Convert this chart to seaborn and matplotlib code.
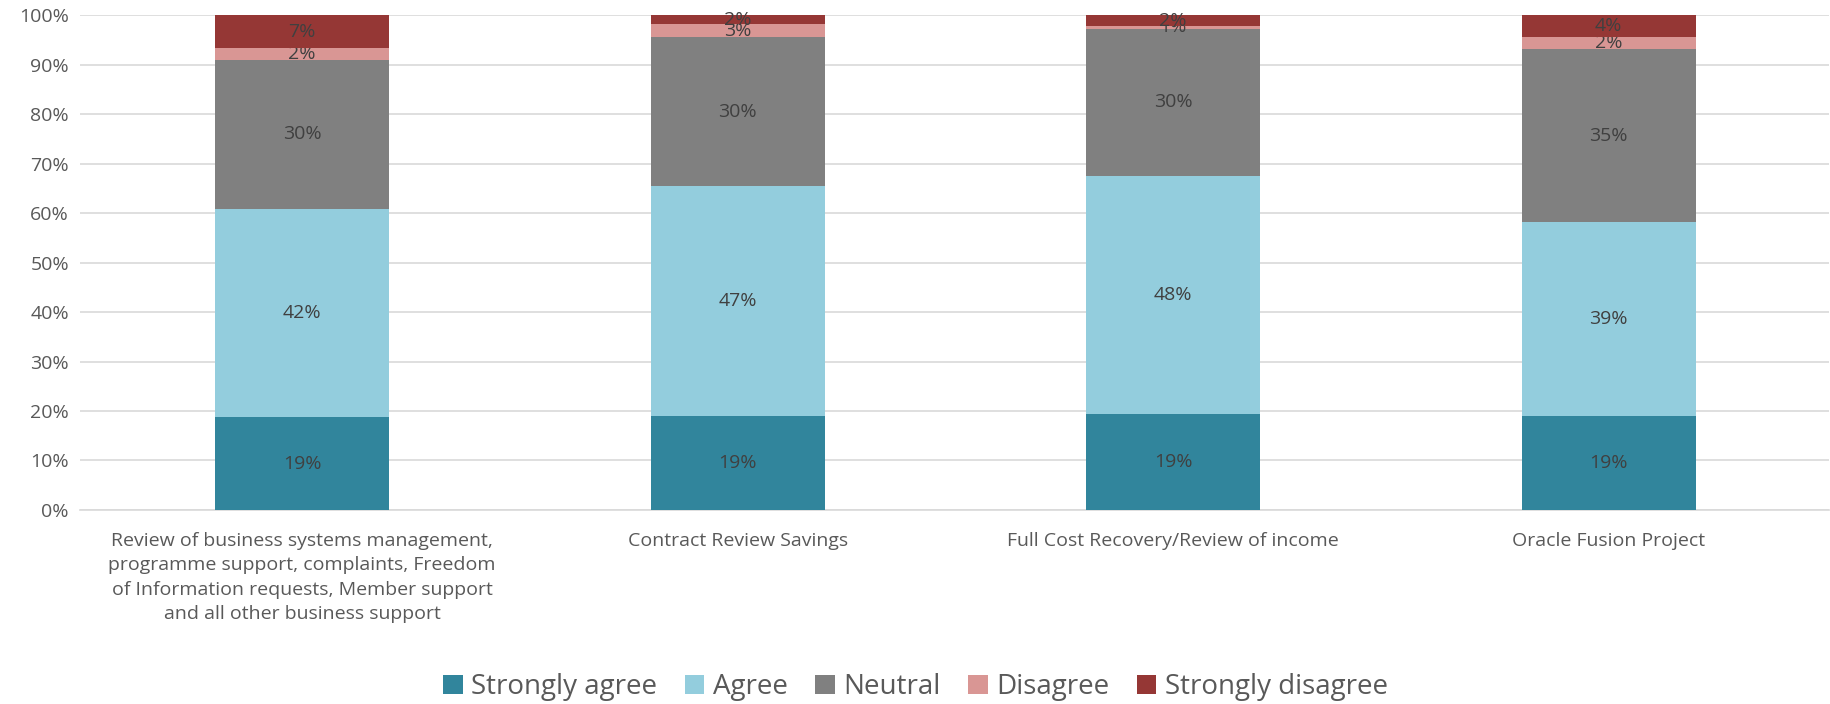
import matplotlib
matplotlib.use("Agg")
import matplotlib.pyplot as plt
import seaborn as sns
import numpy as np

# data
categories = [
    "Review of business systems management,\nprogramme support, complaints, Freedom\nof Information requests, Member support\nand all other business support",
    "Contract Review Savings",
    "Full Cost Recovery/Review of income",
    "Oracle Fusion Project",
]
series = ["Strongly agree", "Agree", "Neutral", "Disagree", "Strongly disagree"]
strongly_agree = [0.187, 0.189, 0.193, 0.189]
agree = [0.421, 0.466, 0.482, 0.392]
neutral = [0.302, 0.300, 0.297, 0.351]
disagree = [0.023, 0.027, 0.006, 0.024]
strongly_disagree = [0.067, 0.018, 0.022, 0.044]
colors = ["#31859C", "#93CDDD", "#808080", "#D99694", "#953735"]

sns.set_style("white")
plt.rcParams["font.family"] = ["Open Sans", "DejaVu Sans"]

fig = plt.figure(figsize=(18.31, 7.04), dpi=100)
ax = fig.add_axes([0.0437, 0.2756, 0.955, 0.703])

bottom = np.zeros(len(categories))
for name, vals, c in zip(series, [strongly_agree, agree, neutral, disagree, strongly_disagree], colors):
    sns.barplot(x=categories, y=vals, color=c, width=0.4, bottom=bottom,
                label=name, ax=ax, saturation=1, zorder=3, linewidth=0)
    ax.bar_label(ax.containers[-1], labels=[f"{v:.0%}" for v in vals],
                 label_type="center", fontsize=14, color="#404040")
    bottom += np.array(vals)

ax.set_ylim(0, 1)
ax.set_xlim(-0.51, 3.505)
ax.set_yticks(np.arange(0, 1.01, 0.1))
ax.set_yticklabels([f"{int(round(t*100))}%" for t in np.arange(0, 1.01, 0.1)])
ax.yaxis.grid(True, color="#D9D9D9", linewidth=1.2, zorder=0)
ax.tick_params(axis="both", length=0, labelsize=14, colors="#595959", pad=8)
ax.tick_params(axis="x", pad=16)
for lbl in ax.get_xticklabels():
    lbl.set_linespacing(1.45)
for s in ["top", "right", "left"]:
    ax.spines[s].set_visible(False)
ax.spines["bottom"].set_color("#D9D9D9")
ax.spines["bottom"].set_linewidth(1.2)
if ax.legend_:
    ax.legend_.remove()

handles, labels = ax.get_legend_handles_labels()
fig.legend(handles, labels, loc="center", bbox_to_anchor=(0.5, 0.024), ncol=5,
           frameon=False, fontsize=20, handlelength=0.7, handleheight=0.7,
           handletextpad=0.3, columnspacing=1.0, labelcolor="#595959")

fig.savefig("out.png", dpi=100)
